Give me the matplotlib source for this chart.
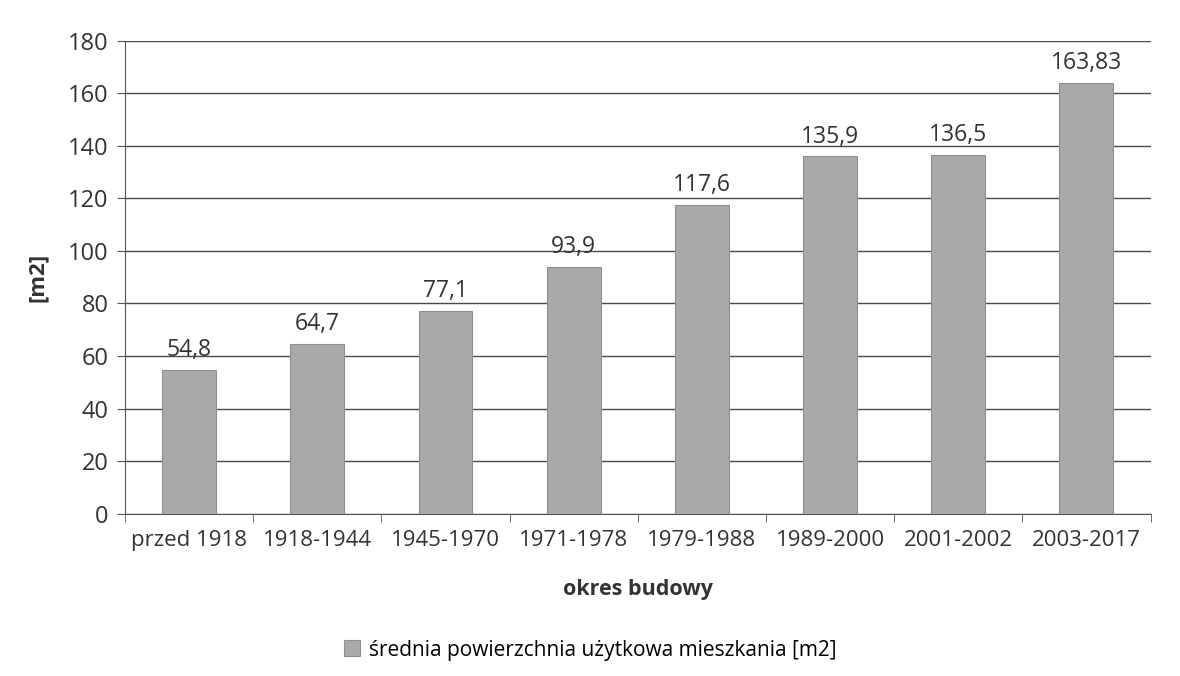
import matplotlib
matplotlib.use("Agg")
import matplotlib.pyplot as plt
import numpy as np

categories = ["przed 1918", "1918-1944", "1945-1970", "1971-1978", "1979-1988", "1989-2000", "2001-2002", "2003-2017"]
values = [54.8, 64.7, 77.1, 93.9, 117.6, 135.9, 136.5, 163.83]
value_labels = ["54,8", "64,7", "77,1", "93,9", "117,6", "135,9", "136,5", "163,83"]
yticks = [0, 20, 40, 60, 80, 100, 120, 140, 160, 180]
series_name = "średnia powierzchnia użytkowa mieszkania [m2]"

plt.rcParams['font.family'] = ['Open Sans', 'DejaVu Sans']

fig = plt.figure(figsize=(11.8, 6.76), dpi=100)
ax = fig.add_axes([0.106, 0.24, 0.869, 0.70])

x = np.arange(len(categories))
bars = ax.bar(x, values, width=0.42, color="#a9a9a9", edgecolor="#8f8f8f", linewidth=0.8,
              label=series_name, zorder=3)
for xi, v, lab in zip(x, values, value_labels):
    ax.text(xi, v + 3, lab, ha="center", va="bottom", fontsize=16.5, color="#333333")

ax.set_ylim(0, 180)
ax.set_yticks(yticks)
ax.set_xlim(-0.5, len(categories) - 0.5)
ax.set_xticks(x)
ax.set_xticklabels(categories, fontsize=16, color="#333333")
ax.tick_params(axis="x", length=0, pad=12)
ax.set_xticks(np.arange(-0.5, len(categories), 1.0), minor=True)
ax.tick_params(axis="x", which="minor", length=6, color="#555555")
ax.tick_params(axis="y", labelsize=17, labelcolor="#333333", length=6, color="#555555", pad=6)

ax.grid(axis="y", color="#4a4a4a", linewidth=1.0, zorder=0)
for s in ["top", "right"]:
    ax.spines[s].set_visible(False)
ax.spines["left"].set_color("#555555")
ax.spines["bottom"].set_color("#555555")

ax.set_xlabel("okres budowy", fontsize=15.5, fontweight="bold", color="#333333", labelpad=20)
ax.set_ylabel("[m2]", fontsize=16, fontweight="bold", color="#333333", labelpad=14)

fig.legend(handles=[bars], labels=[series_name], loc="lower center", bbox_to_anchor=(0.5, -0.005),
           frameon=False, fontsize=15, handlelength=0.8, handleheight=0.8, handletextpad=0.4)

fig.savefig("out.png", dpi=100, facecolor="white")
